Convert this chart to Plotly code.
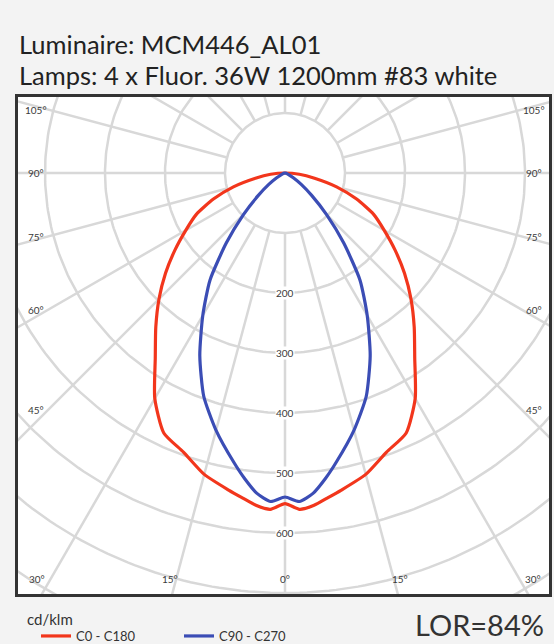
import numpy as np
import plotly.graph_objects as go

# ---- data (cd/klm) ----
gamma_deg = [0, 2.5, 5, 7.5, 10, 15, 20, 25, 30, 35, 40, 45, 50, 55, 60, 65, 70, 75, 80, 85, 90]
c0_c180 = [551, 561, 556, 546, 537, 520, 495, 478, 434, 377, 335, 297, 260, 224, 191, 163, 127, 89, 50, 24, 0]
c90_c270 = [540, 548, 536, 514, 490, 444, 396, 336, 274, 218, 152, 98, 58, 33, 16, 8, 4, 2, 1, 0.5, 0]

radial_ticks = [100, 200, 300, 400, 500, 600, 700, 800, 900, 1000]
radial_labels = [200, 300, 400, 500, 600]
spoke_angles = list(range(0, 360, 15))
side_label_angles = [105, 90, 75, 60, 45]
bottom_label_angles = [30, 15, 0, 15, 30]
bottom_label_signs = [-1, -1, 0, 1, 1]

title_lines = ["Luminaire: MCM446_AL01", "Lamps: 4 x Fluor. 36W 1200mm #83 white"]
series_names = ["C0 - C180", "C90 - C270"]
series_colors = ["#f2361c", "#3b4db5"]
unit_label = "cd/klm"
lor_text = "LOR=84%"

GRID = "#d8d8d8"
BG = "#f3f3f3"

# layout geometry in pixels
W, H = 554, 644
ML, MR, MT, MB = 18, 5, 97, 50
PW, PH = W - ML - MR, H - MT - MB


def px_x(p):
    return (p - ML) / PW


def px_y(p):
    return (H - MB - p) / PH


def to_xy(gam, r, side):
    g = np.radians(np.asarray(gam, dtype=float))
    r = np.asarray(r, dtype=float)
    return side * r * np.sin(g), -r * np.cos(g)


def curve(gam, vals):
    xl, yl = to_xy(gam, vals, -1)
    xr, yr = to_xy(gam, vals, 1)
    x = np.concatenate([xl[::-1], xr[1:]])
    y = np.concatenate([yl[::-1], yr[1:]])
    return x, y


fig = go.Figure()

# grid circles
t = np.linspace(0, 2 * np.pi, 361)
gx, gy = [], []
for r in radial_ticks:
    gx += list(r * np.sin(t)) + [None]
    gy += list(r * np.cos(t)) + [None]
# spokes
for a in spoke_angles:
    ar = np.radians(a)
    gx += [100 * np.sin(ar), 1200 * np.sin(ar), None]
    gy += [-100 * np.cos(ar), -1200 * np.cos(ar), None]
fig.add_trace(go.Scatter(x=gx, y=gy, mode="lines", line=dict(color=GRID, width=2.5),
                         hoverinfo="skip", showlegend=False))

for name, vals, col in zip(series_names, [c0_c180, c90_c270], series_colors):
    x, y = curve(gamma_deg, vals)
    fig.add_trace(go.Scatter(x=x, y=y, mode="lines", name=name,
                             line=dict(color=col, width=3.2, shape="spline", smoothing=0.6)))

ann = []
lab_font = dict(family="Lato", size=10, color="#3a3a3a")
for v in radial_labels:
    ann.append(dict(x=0, y=-v, text=str(v), showarrow=False, font=lab_font,
                    bgcolor="white", borderpad=0))
for a in side_label_angles:
    yv = -395 / np.tan(np.radians(a)) if a != 90 else 0
    for s in (-1, 1):
        ann.append(dict(x=s * 415, y=yv, text=f"{a}°", showarrow=False, font=lab_font))
for a, s in zip(bottom_label_angles, bottom_label_signs):
    ann.append(dict(x=s * 715 * np.tan(np.radians(a)), y=-677, text=f"{a}°",
                    showarrow=False, font=lab_font))

# title lines
title_font = dict(family="Lato", size=25.5, color="#222")
for line, cy in zip(title_lines, [44, 75]):
    ann.append(dict(xref="paper", yref="paper", x=px_x(17), y=px_y(cy), xanchor="left",
                    yanchor="middle", text=line, showarrow=False, font=title_font))

# unit label above legend
ann.append(dict(xref="paper", yref="paper", x=px_x(25), y=px_y(619),
                xanchor="left", yanchor="middle", text=unit_label, showarrow=False,
                font=dict(family="Lato", size=15, color="#333")))
ann.append(dict(xref="paper", yref="paper", x=px_x(546), y=px_y(644),
                xanchor="right", yanchor="bottom",
                text=lor_text, showarrow=False, font=dict(family="Lato", size=29, color="#333")))

fig.update_layout(
    width=W, height=H,
    margin=dict(l=ML, r=MR, t=MT, b=MB, autoexpand=False),
    paper_bgcolor=BG, plot_bgcolor="white",
    xaxis=dict(range=[-445, 440], showgrid=False, zeroline=False, showticklabels=False,
               showline=True, mirror=True, linewidth=3, linecolor="#333", ticks=""),
    yaxis=dict(range=[-701.67, 126.67], showgrid=False, zeroline=False, showticklabels=False,
               showline=True, mirror=True, linewidth=3, linecolor="#333", ticks=""),
    showlegend=True,
    legend=dict(orientation="h", x=px_x(36), xanchor="left", y=px_y(621), yanchor="top",
                font=dict(family="Lato", size=13, color="#333"),
                entrywidth=98, entrywidthmode="pixels", bgcolor="rgba(0,0,0,0)",
                tracegroupgap=0, itemwidth=30),
    annotations=ann,
)

fig.write_html("out.html", config={"displayModeBar": False},
               post_script="document.body.style.margin='0';document.body.style.background='%s';" % BG)
